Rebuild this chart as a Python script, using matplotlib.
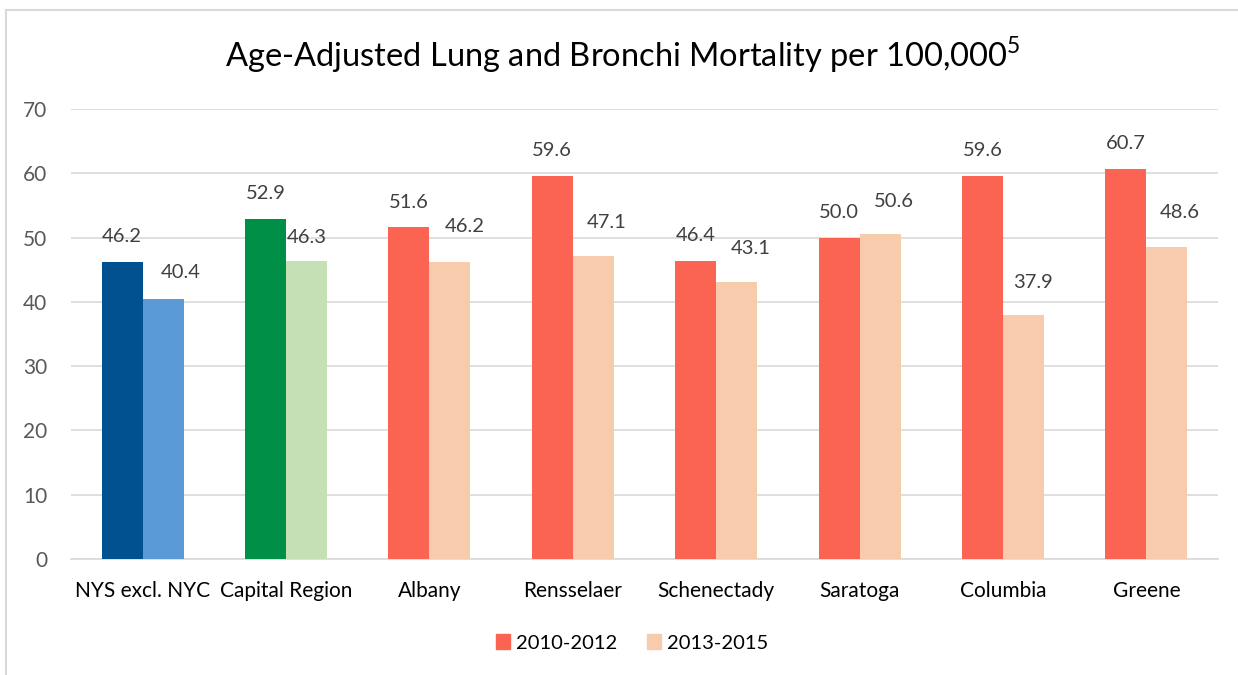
import numpy as np
import matplotlib.pyplot as plt
from matplotlib.patches import Patch
from matplotlib.lines import Line2D

plt.rcParams['font.family'] = ['Lato', 'DejaVu Sans']
plt.rcParams['mathtext.fontset'] = 'custom'
plt.rcParams['mathtext.rm'] = 'Lato'

categories = ['NYS excl. NYC', 'Capital Region', 'Albany', 'Rensselaer',
              'Schenectady', 'Saratoga', 'Columbia', 'Greene']
rates_2010_2012 = [46.2, 52.9, 51.6, 59.6, 46.4, 50.0, 59.6, 60.7]
rates_2013_2015 = [40.4, 46.3, 46.2, 47.1, 43.1, 50.6, 37.9, 48.6]
series_labels = ['2010-2012', '2013-2015']

# first two groups get their own colours, counties share red/peach
dark_cols = ['#01508f', '#008f47'] + ['#fb6352'] * 6
light_cols = ['#5b9bd5', '#c5e0b4'] + ['#f8cbad'] * 6

# label nudges in pixels (excel moved the second-series labels around)
dx_2013 = [18, 0, 15, 13, 14, 14, 10, 13]
dy_2013 = [27, 24, 35, 34, 33, 32, 33, 34]

W, H = 1238, 675
fig = plt.figure(figsize=(W / 100, H / 100), dpi=100)
ax = fig.add_axes([71 / W, 1 - 559 / H, (1218 - 71) / W, (559 - 109) / H])

x = np.arange(len(categories))
bw = 0.286
b1 = ax.bar(x - bw / 2, rates_2010_2012, bw, color=dark_cols, zorder=3)
b2 = ax.bar(x + bw / 2, rates_2013_2015, bw, color=light_cols, zorder=3)

for r, v in zip(b1, rates_2010_2012):
    ax.annotate(f'{v:.1f}', (r.get_x() + r.get_width() / 2, v), xytext=(0, 25),
                textcoords='offset pixels', ha='center', va='center',
                fontsize=14.5, color='#404040', zorder=4)
for r, v, dx, dy in zip(b2, rates_2013_2015, dx_2013, dy_2013):
    ax.annotate(f'{v:.1f}', (r.get_x() + r.get_width() / 2, v), xytext=(dx, dy),
                textcoords='offset pixels', ha='center', va='center',
                fontsize=14.5, color='#404040', zorder=4)

ax.set_xlim(-0.5, len(categories) - 0.5)
ax.set_ylim(0, 70)
ax.set_yticks(np.arange(0, 71, 10))
ax.yaxis.grid(True, color='#d9d9d9', linewidth=1.2, zorder=0)
ax.set_xticks(x)
ax.set_xticklabels(categories, fontsize=15, color='#000000')
ax.tick_params(axis='y', labelsize=15, labelcolor='#595959', length=0, pad=17)
ax.tick_params(axis='x', length=0, pad=16)
for s in ['top', 'right', 'left']:
    ax.spines[s].set_visible(False)
ax.spines['bottom'].set_color('#d9d9d9')
ax.spines['bottom'].set_linewidth(1.2)

fig.text(0.503, 1 - 55 / H, 'Age-Adjusted Lung and Bronchi Mortality per 100,000$^{5}$',
         ha='center', va='center', fontsize=23.5)

handles = [Patch(color='#fb6352'), Patch(color='#f8cbad')]
fig.legend(handles, series_labels, loc='center', bbox_to_anchor=(632 / W, 1 - 643 / H),
           ncol=2, frameon=False, fontsize=14.5, handlelength=0.7, handleheight=0.7,
           handletextpad=0.3, columnspacing=1.5)

# chart border (left and top edges visible)
fig.add_artist(Line2D([6 / W, 6 / W], [0, 1 - 10 / H], transform=fig.transFigure,
                      color='#d9d9d9', linewidth=1.5))
fig.add_artist(Line2D([6 / W, 1], [1 - 10 / H, 1 - 10 / H], transform=fig.transFigure,
                      color='#d9d9d9', linewidth=1.5))

fig.savefig('out.png', dpi=100)
